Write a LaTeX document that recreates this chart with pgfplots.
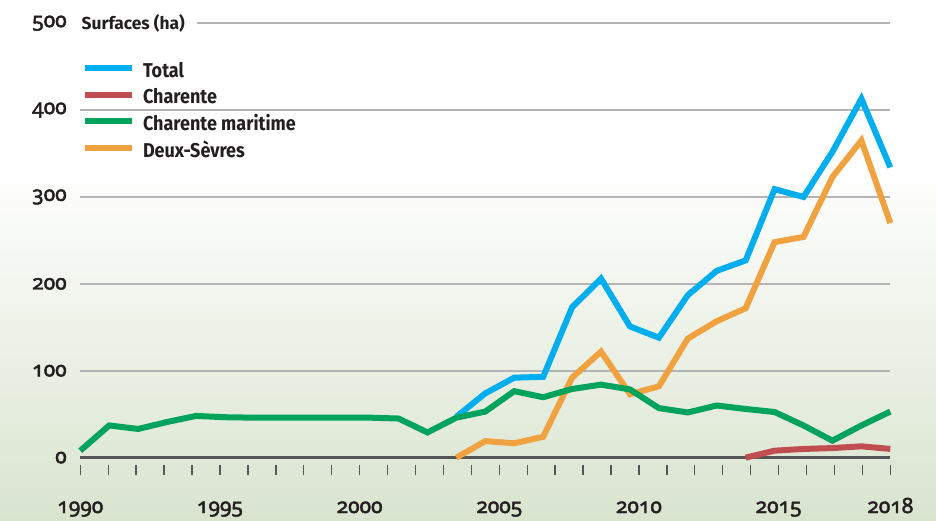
\documentclass[border=0pt]{standalone}
\usepackage{pgfplots}
\pgfplotsset{compat=1.18}
\usepackage{fontspec}
\setmainfont{Fira Sans}
\newfontfamily\legfont{Fira Sans}[FakeStretch=0.9]
\newfontfamily\numfont{Noto Sans}[Numbers=OldStyle, FakeBold=2.2]
\definecolor{cblue}{RGB}{0,174,239}
\definecolor{cred}{RGB}{192,78,80}
\definecolor{cgreen}{RGB}{0,163,92}
\definecolor{corange}{RGB}{240,162,64}
\definecolor{gridgray}{RGB}{178,180,182}
\definecolor{zerogray}{RGB}{85,85,85}
\definecolor{textcol}{RGB}{35,31,32}
\definecolor{bggreen}{RGB}{217,228,207}
\begin{document}
\begin{tikzpicture}
\path[use as bounding box, fill=white] (-40.15pt,-22.5pt) rectangle (427.85pt,237.5pt);
\shade[top color=white, bottom color=bggreen] (-40.15pt,-22.5pt) rectangle (427.85pt,155pt);
\begin{axis}[
  scale only axis, width=405pt, height=225.9pt,
  at={(0,0)}, anchor=south west,
  xmin=1990, xmax=2018, ymin=-20, ymax=500,
  clip=false,
  axis line style={draw=none},
  tick pos=left, tick align=inside,
  major tick length=5pt,
  xtick={1990,1990.9655,1991.9310,1992.8966,1993.8621,1994.8276,1995.7931,1996.7586,1997.7241,1998.6897,1999.6552,2000.6207,2001.5862,2002.5517,2003.5172,2004.4828,2005.4483,2006.4138,2007.3793,2008.3448,2009.3103,2010.2759,2011.2414,2012.2069,2013.1724,2014.1379,2015.1034,2016.0690,2017.0345,2018},
  xticklabels={1990,,,,,1995,,,,,2000,,,,,2005,,,,,2010,,,,,2015,,,,2018},
  xtick style={draw=zerogray, line width=0.7pt},
  ytick={0,100,200,300,400,500},
  yticklabels={0,100,200,300,400,500},
  ytick style={draw=none},
  ymajorgrids, grid style={gridgray, line width=1pt},
  ticklabel style={font=\numfont\fontsize{10.5}{12}\selectfont, text=textcol},
  yticklabel style={anchor=east, inner sep=0pt, xshift=-6.6pt},
  xticklabel style={anchor=base, inner sep=0pt, yshift=-19pt},
  legend cell align=left,
  legend image code/.code={\draw[#1, line width=3pt] (0pt,3.3pt) -- (23.5pt,3.3pt);},
  legend style={draw=none, fill=none, at={(axis description cs:0,1)}, anchor=north west,
    xshift=0.85pt, yshift=-19pt, inner sep=0pt, outer sep=0pt, row sep=0pt, column sep=4pt,
    font=\legfont\bfseries\fontsize{10}{12}\selectfont, text=textcol,
    nodes={inner sep=0pt, text height=8pt, text depth=5.35pt}},
  every axis plot/.append style={line width=3pt, line join=miter, line cap=butt},
]
\draw[zerogray, line width=1.2pt] (axis cs:1990,0) -- (axis cs:2018,0);
\addlegendimage{cblue}\addlegendentry{Total}
\addlegendimage{cred}\addlegendentry{Charente}
\addlegendimage{cgreen}\addlegendentry{Charente maritime}
\addlegendimage{corange}\addlegendentry{Deux-Sèvres}
% Total
\addplot[cblue, forget plot] coordinates {
(2003,47) (2004,74) (2005,92) (2006,93) (2007,173) (2008,206) (2009,151) (2010,138)
(2011,187) (2012,215) (2013,227) (2014,309) (2015,300) (2016,352) (2017,413) (2018,334)};
% Deux-Sevres
\addplot[corange, forget plot] coordinates {
(2003,0) (2004,19) (2005,16.5) (2006,24) (2007,92) (2008,122) (2009,73) (2010,82)
(2011,137) (2012,157) (2013,172) (2014,248) (2015,254) (2016,323) (2017,365) (2018,270)};
% Charente
\addplot[cred, forget plot] coordinates {
(2013,0) (2014,8) (2015,10) (2016,11) (2017,13) (2018,10)};
% Charente maritime
\addplot[cgreen, forget plot] coordinates {
(1990,8) (1991,37) (1992,33) (1993,41) (1994,48) (1995,46.5) (1996,46) (1997,46)
(1998,46) (1999,46) (2000,46) (2001,45) (2002,29) (2003,46) (2004,53) (2005,76.5)
(2006,69.5) (2007,79) (2008,84) (2009,78.5) (2010,57) (2011,52) (2012,60) (2013,56)
(2014,52.5) (2015,37) (2016,19.5) (2017,37) (2018,53)};
\node[anchor=west, fill=white, inner ysep=2pt, inner xsep=6pt, xshift=-5.5pt,
  font=\fontsize{8.7}{10}\selectfont\bfseries, text=textcol] at (axis cs:1990,500) {Surfaces (ha)};
\end{axis}
\end{tikzpicture}
\end{document}
